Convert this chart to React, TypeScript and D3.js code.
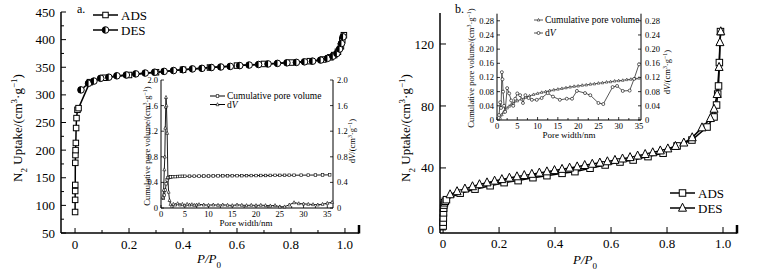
import React from "react";
import * as d3 from "d3";

const FONT = "'Liberation Serif', 'Times New Roman', serif";

// ---------- Panel a: main isotherm ----------
const aAdsX = [0.0002, 0.0004, 0.0006, 0.0008, 0.001, 0.0015, 0.002, 0.003, 0.004, 0.0055, 0.009, 0.013, 0.055, 0.11, 0.2, 0.3, 0.4, 0.5, 0.6, 0.7, 0.8, 0.87, 0.92, 0.946, 0.96, 0.974, 0.985, 0.99, 0.996];
const aAdsY = [88, 110, 126, 137, 177, 191, 200, 213, 240, 258, 273, 276, 323, 331, 336, 341, 345.5, 349.5, 353, 356, 358.5, 361, 364, 368, 372, 378, 388, 399, 408];
const aDesX = [0.022, 0.05, 0.07, 0.095, 0.125, 0.155, 0.19, 0.225, 0.26, 0.295, 0.33, 0.365, 0.4, 0.435, 0.47, 0.505, 0.54, 0.575, 0.61, 0.645, 0.68, 0.715, 0.75, 0.785, 0.82, 0.85, 0.88, 0.91, 0.935, 0.955, 0.97, 0.98, 0.987, 0.993];
const aDesY = [309, 321, 325, 330, 332, 334.5, 336, 338, 339.5, 341, 342.5, 344, 345.5, 347, 348, 349.5, 350.5, 351.5, 353, 354, 355, 356, 357, 358, 358.8, 359.8, 361, 363, 366, 370, 375, 383, 393, 405];
const aXTicks = [0, 0.2, 0.4, 0.6, 0.8, 1.0];
const aXMinor = [0.1, 0.3, 0.5, 0.7, 0.9];
const aYTicks = [50, 100, 150, 200, 250, 300, 350, 400, 450];
const aYMinor = [75, 125, 175, 225, 275, 325, 375, 425];

// ---------- Panel a: inset ----------
const aCumX = [0.5, 0.7, 0.9, 1.1, 1.3, 1.5, 1.8, 2.1, 2.5, 3, 3.5, 4, 4.5, 5, 6, 7, 8, 9, 10, 11, 12, 13, 14, 15, 16, 17, 18, 19, 20, 21, 22, 23, 24, 25, 26, 27, 28, 29.5, 31, 32.5, 34, 35.5];
const aCumY = [0.15, 0.2, 0.28, 0.38, 0.44, 0.47, 0.48, 0.485, 0.49, 0.49, 0.492, 0.494, 0.495, 0.496, 0.497, 0.498, 0.499, 0.5, 0.5, 0.501, 0.502, 0.503, 0.503, 0.504, 0.505, 0.505, 0.506, 0.507, 0.507, 0.508, 0.508, 0.509, 0.51, 0.51, 0.511, 0.512, 0.512, 0.513, 0.514, 0.515, 0.516, 0.518];
const aDvX = [0.4, 0.55, 0.7, 0.8, 0.9, 1.0, 1.05, 1.15, 1.3, 1.45, 1.6, 1.8, 2.0, 2.3, 2.6, 3.0, 3.5, 4, 4.5, 5, 5.5, 6, 6.5, 7, 7.5, 8, 9, 10, 11, 12, 13, 14, 15, 16, 17, 18, 19, 20, 21, 22, 23, 24, 25, 26, 27, 28, 29, 30, 31, 32, 33, 34, 35, 36];
const aDvY = [0.17, 0.28, 0.6, 0.8, 1.25, 1.58, 1.73, 1.6, 1.17, 0.48, 0.25, 0.12, 0.06, 0.03, 0.06, 0.05, 0.07, 0.05, 0.06, 0.04, 0.06, 0.05, 0.055, 0.045, 0.05, 0.055, 0.05, 0.045, 0.05, 0.045, 0.05, 0.045, 0.04, 0.05, 0.045, 0.04, 0.045, 0.04, 0.045, 0.04, 0.035, 0.04, 0.02, 0.02, 0.05, 0.085, 0.07, 0.065, 0.06, 0.055, 0.05, 0.06, 0.075, 0.09];
const aInXTicks = [0, 5, 10, 15, 20, 25, 30, 35];
const aInYTicks = [0, 0.4, 0.8, 1.2, 1.6, 2.0];

// ---------- Panel b: main isotherm ----------
const bAdsX = [0.0003, 0.0006, 0.001, 0.0015, 0.002, 0.003, 0.005, 0.008, 0.012, 0.061, 0.114, 0.168, 0.218, 0.268, 0.321, 0.371, 0.425, 0.471, 0.525, 0.579, 0.632, 0.679, 0.732, 0.786, 0.836, 0.889, 0.943, 0.968, 0.977, 0.981, 0.984, 0.987, 0.991];
const bAdsY = [2.5, 5, 7.7, 11, 14, 16, 17.5, 18.5, 19.5, 23.7, 26.3, 28.5, 30.5, 31.8, 33.7, 35, 36.5, 37.6, 39.8, 41.9, 43.8, 45.1, 47.3, 49.5, 54.2, 58, 66.4, 72.9, 80.6, 87.7, 92.9, 108, 128];
const bDesX = [0.025, 0.05, 0.078, 0.105, 0.13, 0.157, 0.184, 0.21, 0.237, 0.264, 0.29, 0.317, 0.344, 0.371, 0.398, 0.425, 0.452, 0.479, 0.506, 0.533, 0.56, 0.587, 0.614, 0.641, 0.668, 0.695, 0.722, 0.749, 0.776, 0.803, 0.83, 0.86, 0.89, 0.925, 0.955, 0.968, 0.979, 0.986, 0.989, 0.992];
const bDesY = [22.8, 24.8, 26.5, 28, 29.3, 30.5, 31.6, 32.6, 33.5, 34.4, 35.2, 36, 36.8, 37.6, 38.4, 39.2, 40, 40.8, 41.7, 42.5, 43.3, 44.1, 45, 45.9, 46.8, 47.8, 48.8, 49.9, 51.1, 52.4, 54, 56.2, 59.6, 66, 72, 78, 87.5, 105, 121, 128];
const bXTicks = [0, 0.2, 0.4, 0.6, 0.8, 1.0];
const bYTicks = [0, 40, 80, 120];

// ---------- Panel b: inset ----------
const bCumX = [0.8, 1.2, 1.6, 2, 2.5, 3, 3.5, 4, 5, 6, 7, 8, 9, 10, 11, 12, 13, 14, 15, 16, 17, 18, 19, 20, 21, 22, 23, 24, 25, 26, 27, 28, 29, 30, 31, 32, 33, 34, 35];
const bCumY = [0.005, 0.015, 0.022, 0.028, 0.034, 0.039, 0.043, 0.047, 0.054, 0.059, 0.064, 0.068, 0.072, 0.075, 0.078, 0.080, 0.083, 0.085, 0.087, 0.089, 0.091, 0.093, 0.095, 0.096, 0.098, 0.099, 0.101, 0.102, 0.104, 0.105, 0.107, 0.108, 0.110, 0.111, 0.112, 0.114, 0.115, 0.117, 0.118];
const bDvX = [0.5, 0.8, 1.0, 1.2, 1.35, 1.5, 1.75, 2.0, 2.5, 3.0, 3.5, 4.0, 4.5, 5.0, 5.7, 6.4, 7.0, 7.8, 8.6, 9.8, 11, 12.5, 13.8, 15.5, 17.2, 18.5, 19.7, 21.7, 23, 25, 26.2, 28.5, 29.6, 31, 32.7, 33.8, 35];
const bDvY = [0.014, 0.05, 0.034, 0.135, 0.115, 0.08, 0.04, 0.023, 0.09, 0.075, 0.055, 0.04, 0.06, 0.075, 0.07, 0.048, 0.07, 0.062, 0.057, 0.057, 0.062, 0.076, 0.066, 0.057, 0.06, 0.06, 0.082, 0.076, 0.07, 0.048, 0.045, 0.093, 0.096, 0.082, 0.083, 0.116, 0.157];
const bInXTicks = [0, 5, 10, 15, 20, 25, 30, 35];
const bInYTicks = [0, 0.04, 0.08, 0.12, 0.16, 0.2, 0.24, 0.28];

// ---------- scales ----------
const axA = d3.scaleLinear().domain([-0.052, 1.052]).range([61, 359]);
const ayA = d3.scaleLinear().domain([50, 450]).range([233, 12]);
const ixA = d3.scaleLinear().domain([0, 36.2]).range([161, 333]);
const iyA = d3.scaleLinear().domain([0, 2.0]).range([208, 80]);
const axB = d3.scaleLinear().domain([-0.011, 1.05]).range([440, 737]);
const ayB = d3.scaleLinear().domain([-2, 140]).range([233, 13]);
const ixB = d3.scaleLinear().domain([0, 35.5]).range([497, 641]);
const iyB = d3.scaleLinear().domain([0, 0.3]).range([120, 13.7]);

type Sc = d3.ScaleLinear<number, number>;

function pathOf(xs: number[], ys: number[], sx: Sc, sy: Sc) {
  const line = d3.line<number>().x((_, i) => sx(xs[i])).y((d) => sy(d));
  return line(ys) || "";
}

const Square = ({ x, y, s, sw = 1 }: { x: number; y: number; s: number; sw?: number }) => (
  <rect x={x - s / 2} y={y - s / 2} width={s} height={s} fill="white" stroke="black" strokeWidth={sw} />
);
const Tri = ({ x, y, s, sw = 1, fill = "white" }: { x: number; y: number; s: number; sw?: number; fill?: string }) => (
  <path d={`M${x},${y - s * 0.6}L${x + s / 2},${y + s * 0.4}L${x - s / 2},${y + s * 0.4}Z`} fill={fill} stroke="black" strokeWidth={sw} />
);
const Circ = ({ x, y, r, sw = 1 }: { x: number; y: number; r: number; sw?: number }) => (
  <circle cx={x} cy={y} r={r} fill="white" stroke="black" strokeWidth={sw} />
);
const HalfCirc = ({ x, y, r }: { x: number; y: number; r: number }) => (
  <g>
    <circle cx={x} cy={y} r={r} fill="white" stroke="black" strokeWidth={1} />
    <path d={`M${x},${y - r}A${r},${r} 0 0 0 ${x},${y + r}Z`} fill="black" />
  </g>
);

function fmt1(v: number) {
  return v === 0 ? "0" : v.toFixed(1);
}
function fmt2(v: number) {
  return v === 0 ? "0" : v.toFixed(2);
}

const UnitLabel = ({ prefix, x, y, size, italicV = false }: { prefix: string; x: number; y: number; size: number; italicV?: boolean }) => (
  <text transform={`translate(${x},${y}) rotate(-90)`} textAnchor="middle" fontFamily={FONT} fontSize={size}>
    {italicV ? (
      <>
        <tspan>d</tspan>
        <tspan fontStyle="italic">V</tspan>
      </>
    ) : (
      <tspan>{prefix}</tspan>
    )}
    <tspan>/(cm</tspan>
    <tspan baselineShift="super" fontSize={size * 0.7}>3</tspan>
    <tspan>·g</tspan>
    <tspan baselineShift="super" fontSize={size * 0.7}>−1</tspan>
    <tspan>)</tspan>
  </text>
);

const N2Label = ({ x, y }: { x: number; y: number }) => (
  <text transform={`translate(${x},${y}) rotate(-90)`} textAnchor="middle" fontFamily={FONT} fontSize={13}>
    <tspan>N</tspan>
    <tspan baselineShift="sub" fontSize={9}>2</tspan>
    <tspan> Uptake/(cm</tspan>
    <tspan baselineShift="super" fontSize={9}>3</tspan>
    <tspan>·g</tspan>
    <tspan baselineShift="super" fontSize={9}>−1</tspan>
    <tspan>)</tspan>
  </text>
);

const PP0 = ({ x, y }: { x: number; y: number }) => (
  <text x={x} y={y} textAnchor="middle" fontFamily={FONT} fontSize={13} fontStyle="italic">
    <tspan>P</tspan>
    <tspan>/P</tspan>
    <tspan baselineShift="sub" fontSize={9} fontStyle="normal">0</tspan>
  </text>
);

function PanelA() {
  const x0 = axA.range()[0], x1 = axA.range()[1];
  const y0 = ayA.range()[0], y1 = ayA.range()[1];
  const ix0 = ixA.range()[0], ix1 = ixA.range()[1];
  const iy0 = iyA.range()[0], iy1 = iyA.range()[1];
  const inMinor = d3.range(2.5, 36, 5);
  return (
    <g>
      {/* axes */}
      <line x1={x0} y1={y0} x2={x1} y2={y0} stroke="black" strokeWidth={1.5} />
      <line x1={x0} y1={y0} x2={x0} y2={y1} stroke="black" strokeWidth={1.5} />
      <line x1={x1} y1={y0 + 0.5} x2={x1} y2={y0 - 8} stroke="black" strokeWidth={2.5} />
      {aXTicks.map((t) => (
        <g key={"ax" + t}>
          <line x1={axA(t)} x2={axA(t)} y1={y0} y2={y0 - 5} stroke="black" />
          <text x={axA(t)} y={y0 + 16} textAnchor="middle" fontFamily={FONT} fontSize={13}>{fmt1(t)}</text>
        </g>
      ))}
      {aXMinor.map((t) => (
        <line key={"axm" + t} x1={axA(t)} x2={axA(t)} y1={y0} y2={y0 - 3} stroke="black" />
      ))}
      {aYTicks.map((t) => (
        <g key={"ay" + t}>
          <line x1={x0} x2={x0 + 5} y1={ayA(t)} y2={ayA(t)} stroke="black" />
          <text x={x0 - 6} y={ayA(t)} dy="0.35em" textAnchor="end" fontFamily={FONT} fontSize={13}>{t}</text>
        </g>
      ))}
      {aYMinor.map((t) => (
        <line key={"aym" + t} x1={x0} x2={x0 + 3} y1={ayA(t)} y2={ayA(t)} stroke="black" />
      ))}
      <N2Label x={22} y={128} />
      <PP0 x={209} y={263} />
      <text x={77} y={13} fontFamily={FONT} fontSize={12}>a.</text>

      {/* legend */}
      <line x1={93} x2={118} y1={15} y2={15} stroke="black" strokeWidth={1.5} />
      <Square x={105.5} y={15} s={5.5} />
      <text x={121} y={15} dy="0.35em" fontFamily={FONT} fontSize={13}>ADS</text>
      <line x1={93} x2={118} y1={30} y2={30} stroke="black" strokeWidth={1.5} />
      <HalfCirc x={105.5} y={30} r={3.3} />
      <text x={121} y={30} dy="0.35em" fontFamily={FONT} fontSize={13}>DES</text>

      {/* series */}
      <path d={pathOf(aAdsX, aAdsY, axA, ayA)} fill="none" stroke="black" strokeWidth={1.5} />
      <path d={pathOf(aDesX, aDesY, axA, ayA)} fill="none" stroke="black" strokeWidth={1.5} />
      {aAdsY.map((v, i) => (
        <Square key={"as" + i} x={axA(aAdsX[i])} y={ayA(v)} s={5.5} />
      ))}
      {aDesY.map((v, i) => (
        <HalfCirc key={"ad" + i} x={axA(aDesX[i])} y={ayA(v)} r={3.3} />
      ))}

      {/* inset */}
      <line x1={ix0} y1={iy0} x2={ix1} y2={iy0} stroke="black" strokeWidth={1} />
      <line x1={ix0} y1={iy0} x2={ix0} y2={iy1} stroke="black" strokeWidth={1} />
      <line x1={ix1} y1={iy0} x2={ix1} y2={iy1} stroke="black" strokeWidth={1} />
      {aInXTicks.map((t) => (
        <g key={"aix" + t}>
          <line x1={ixA(t)} x2={ixA(t)} y1={iy0} y2={iy0 - 3} stroke="black" strokeWidth={0.8} />
          <text x={ixA(t)} y={iy0 + 9} textAnchor="middle" fontFamily={FONT} fontSize={8.5}>{t}</text>
        </g>
      ))}
      {inMinor.map((t) => (
        <line key={"aixm" + t} x1={ixA(t)} x2={ixA(t)} y1={iy0} y2={iy0 - 2} stroke="black" strokeWidth={0.8} />
      ))}
      {aInYTicks.map((t) => (
        <g key={"aiy" + t}>
          <line x1={ix0} x2={ix0 + 3} y1={iyA(t)} y2={iyA(t)} stroke="black" strokeWidth={0.8} />
          <text x={ix0 - 3} y={iyA(t)} dy="0.35em" textAnchor="end" fontFamily={FONT} fontSize={8.5}>{fmt1(t)}</text>
          <line x1={ix1} x2={ix1 - 3} y1={iyA(t)} y2={iyA(t)} stroke="black" strokeWidth={0.8} />
          <text x={ix1 + 4} y={iyA(t)} dy="0.35em" textAnchor="start" fontFamily={FONT} fontSize={8.5}>{fmt1(t)}</text>
        </g>
      ))}
      <UnitLabel prefix="Cumulative pore volume" x={150} y={146} size={8.5} />
      <UnitLabel prefix="" italicV x={355} y={141} size={8.5} />
      <text x={(ix0 + ix1) / 2 - 1} y={iy0 + 18} textAnchor="middle" fontFamily={FONT} fontSize={9}>Pore width/nm</text>

      <path d={pathOf(aCumX, aCumY, ixA, iyA)} fill="none" stroke="black" strokeWidth={0.9} />
      <path d={pathOf(aDvX, aDvY, ixA, iyA)} fill="none" stroke="black" strokeWidth={0.9} />
      {aCumY.map((v, i) => (
        <Square key={"acs" + i} x={ixA(aCumX[i])} y={iyA(v)} s={2.6} sw={0.6} />
      ))}
      {aDvY.map((v, i) => (
        <Tri key={"adv" + i} x={ixA(aDvX[i])} y={iyA(v)} s={3} sw={0.6} />
      ))}
      <line x1={210} x2={225} y1={96} y2={96} stroke="black" strokeWidth={1} />
      <Square x={217.5} y={96} s={2.6} sw={0.6} />
      <text x={227} y={96} dy="0.35em" fontFamily={FONT} fontSize={9.5}>Cumulative pore volume</text>
      <line x1={210} x2={225} y1={104.5} y2={104.5} stroke="black" strokeWidth={1} />
      <Tri x={217.5} y={104.5} s={3} sw={0.6} />
      <text x={227} y={104.5} dy="0.35em" fontFamily={FONT} fontSize={9.5}>
        <tspan>d</tspan>
        <tspan fontStyle="italic">V</tspan>
      </text>
    </g>
  );
}

function PanelB() {
  const x0 = axB.range()[0], x1 = axB.range()[1];
  const y0 = ayB.range()[0], y1 = ayB.range()[1];
  const ix0 = ixB.range()[0], ix1 = ixB.range()[1];
  const iy0 = iyB.range()[0], iy1 = iyB.range()[1];
  const inMinor = d3.range(2.5, 36, 5);
  return (
    <g>
      <line x1={x0} y1={y0} x2={x1} y2={y0} stroke="black" strokeWidth={1.5} />
      <line x1={x0} y1={y0} x2={x0} y2={y1} stroke="black" strokeWidth={1.5} />
      <line x1={x1} y1={y0 + 0.5} x2={x1} y2={y0 - 8} stroke="black" strokeWidth={2.5} />
      {bXTicks.map((t) => (
        <g key={"bx" + t}>
          <line x1={axB(t)} x2={axB(t)} y1={y0} y2={y0 - 6} stroke="black" />
          <text x={axB(t)} y={y0 + 15} textAnchor="middle" fontFamily={FONT} fontSize={13}>{fmt1(t)}</text>
        </g>
      ))}
      {bYTicks.map((t) => (
        <g key={"by" + t}>
          <line x1={x0} x2={x0 + 6} y1={ayB(t)} y2={ayB(t)} stroke="black" />
          <text x={x0 - 6} y={ayB(t)} dy="0.35em" textAnchor="end" fontFamily={FONT} fontSize={13}>{t}</text>
        </g>
      ))}
      <N2Label x={410} y={128} />
      <PP0 x={585} y={264} />
      <text x={455} y={13} fontFamily={FONT} fontSize={12}>b.</text>

      {/* legend */}
      <line x1={670} x2={695} y1={193} y2={193} stroke="black" strokeWidth={1.5} />
      <Square x={682.5} y={193} s={6.5} />
      <text x={698} y={193} dy="0.35em" fontFamily={FONT} fontSize={13}>ADS</text>
      <line x1={670} x2={695} y1={208} y2={208} stroke="black" strokeWidth={1.5} />
      <Tri x={682.5} y={208} s={8} />
      <text x={698} y={208} dy="0.35em" fontFamily={FONT} fontSize={13}>DES</text>

      <path d={pathOf(bAdsX, bAdsY, axB, ayB)} fill="none" stroke="black" strokeWidth={1.5} />
      <path d={pathOf(bDesX, bDesY, axB, ayB)} fill="none" stroke="black" strokeWidth={1.5} />
      {bAdsY.map((v, i) => (
        <Square key={"bs" + i} x={axB(bAdsX[i])} y={ayB(v)} s={6.5} />
      ))}
      {bDesY.map((v, i) => (
        <Tri key={"bd" + i} x={axB(bDesX[i])} y={ayB(v)} s={8} />
      ))}

      {/* inset */}
      <line x1={ix0} y1={iy0} x2={ix1} y2={iy0} stroke="black" strokeWidth={1} />
      <line x1={ix0} y1={iy0} x2={ix0} y2={iy1} stroke="black" strokeWidth={1} />
      <line x1={ix1} y1={iy0} x2={ix1} y2={iy1} stroke="black" strokeWidth={1} />
      {bInXTicks.map((t) => (
        <g key={"bix" + t}>
          <line x1={ixB(t)} x2={ixB(t)} y1={iy0} y2={iy0 - 3} stroke="black" strokeWidth={0.8} />
          <text x={ixB(t)} y={iy0 + 9} textAnchor="middle" fontFamily={FONT} fontSize={8.5}>{t}</text>
        </g>
      ))}
      {inMinor.map((t) => (
        <line key={"bixm" + t} x1={ixB(t)} x2={ixB(t)} y1={iy0} y2={iy0 - 2} stroke="black" strokeWidth={0.8} />
      ))}
      {bInYTicks.map((t) => (
        <g key={"biy" + t}>
          <line x1={ix0} x2={ix0 + 3} y1={iyB(t)} y2={iyB(t)} stroke="black" strokeWidth={0.8} />
          <text x={ix0 - 3} y={iyB(t)} dy="0.35em" textAnchor="end" fontFamily={FONT} fontSize={8.5}>{fmt2(t)}</text>
          <line x1={ix1} x2={ix1 - 3} y1={iyB(t)} y2={iyB(t)} stroke="black" strokeWidth={0.8} />
          <text x={ix1 + 4} y={iyB(t)} dy="0.35em" textAnchor="start" fontFamily={FONT} fontSize={8.5}>{fmt2(t)}</text>
        </g>
      ))}
      <UnitLabel prefix="Cumulative pore volume" x={474} y={68} size={8.5} />
      <UnitLabel prefix="" italicV x={670} y={72} size={8.5} />
      <text x={(ix0 + ix1) / 2} y={iy0 + 18} textAnchor="middle" fontFamily={FONT} fontSize={9}>Pore width/nm</text>

      <path d={pathOf(bCumX, bCumY, ixB, iyB)} fill="none" stroke="#444" strokeWidth={0.9} />
      <path d={pathOf(bDvX, bDvY, ixB, iyB)} fill="none" stroke="#444" strokeWidth={0.9} />
      {bCumY.map((v, i) => (
        <Tri key={"bcs" + i} x={ixB(bCumX[i])} y={iyB(v)} s={2.6} sw={0.5} />
      ))}
      {bDvY.map((v, i) => (
        <Circ key={"bdv" + i} x={ixB(bDvX[i])} y={iyB(v)} r={1.5} sw={0.6} />
      ))}
      <line x1={534} x2={543} y1={20} y2={20} stroke="#444" strokeWidth={0.9} />
      <Tri x={538.5} y={20} s={2.6} sw={0.5} />
      <text x={545} y={20} dy="0.35em" fontFamily={FONT} fontSize={9.5}>Cumulative pore volume</text>
      <line x1={534} x2={543} y1={33} y2={33} stroke="#444" strokeWidth={0.9} />
      <Circ x={538.5} y={33} r={1.5} sw={0.6} />
      <text x={545} y={33} dy="0.35em" fontFamily={FONT} fontSize={9.5}>
        <tspan>d</tspan>
        <tspan fontStyle="italic">V</tspan>
      </text>
    </g>
  );
}

export default function App() {
  return (
    <svg
      width={760}
      height={278}
      viewBox="0 0 760 278"
      style={{ position: "absolute", left: 0, top: 0, background: "white" }}
    >
      <rect width={760} height={278} fill="white" />
      <PanelA />
      <PanelB />
    </svg>
  );
}
